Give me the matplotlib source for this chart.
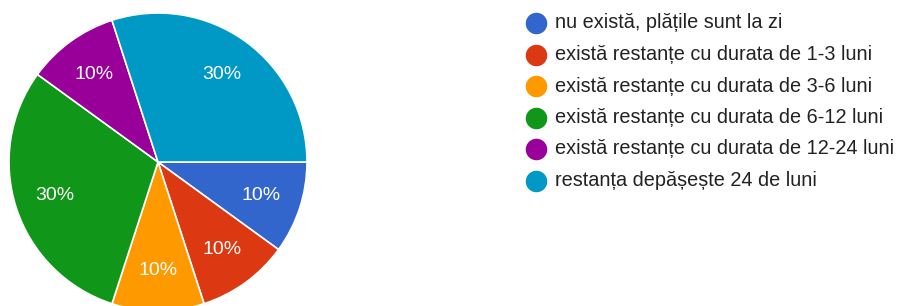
import matplotlib
matplotlib.use('Agg')
import matplotlib.pyplot as plt

plt.rcParams['font.family'] = ['Liberation Sans', 'DejaVu Sans']

# Data
labels = [
    'nu există, plățile sunt la zi',
    'există restanțe cu durata de 1-3 luni',
    'există restanțe cu durata de 3-6 luni',
    'există restanțe cu durata de 6-12 luni',
    'există restanțe cu durata de 12-24 luni',
    'restanța depășește 24 de luni',
]
shares = [10, 10, 10, 30, 10, 30]
colors = ['#3366cc', '#dc3912', '#ff9900', '#109618', '#990099', '#0099c6']

W, H = 902, 306
fig = plt.figure(figsize=(W / 100, H / 100), dpi=100)
ax = fig.add_axes([0, 0, 1, 1])
ax.set_xlim(0, W)
ax.set_ylim(0, H)
ax.set_aspect('equal')
ax.axis('off')

# Pie, clockwise from 3 o'clock
ax.pie(shares, colors=colors, center=(158, H - 162), radius=149,
       startangle=0, counterclock=False,
       autopct='%d%%', pctdistance=0.73,
       wedgeprops=dict(edgecolor='white', linewidth=1.2),
       textprops=dict(color='white', fontsize=14))
ax.set_xlim(0, W)
ax.set_ylim(0, H)

# Legend
for i, (lab, c) in enumerate(zip(labels, colors)):
    y = H - 23 - i * 31.5
    ax.scatter([536], [y], s=210, color=c, zorder=3)
    ax.text(555, y, lab, fontsize=14.3, color='#222222', va='center', ha='left')

fig.savefig('out.png', dpi=100)
